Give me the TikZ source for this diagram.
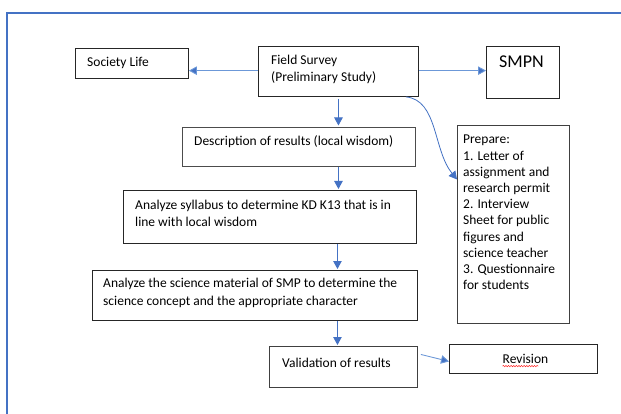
\documentclass[tikz,border=0pt]{standalone}
\usepackage{fontspec}
\setmainfont{Carlito}
\usetikzlibrary{arrows.meta,decorations.pathmorphing}
\definecolor{frameblue}{HTML}{4472C4}
\definecolor{arrblue}{HTML}{4472C4}
\definecolor{lightarr}{HTML}{6C98D8}
\tikzset{
  box/.style={draw=black!85, line width=0.9pt, anchor=north west, inner sep=0pt},
  txt/.style={anchor=west, inner sep=0pt, align=left, font=\fontsize{13.5}{17.5}\selectfont},
  arr/.style={draw=arrblue, line width=0.8pt, -{Triangle[length=8pt,width=8.5pt]}},
  larr/.style={draw=lightarr, line width=0.9pt, -{Triangle[length=8pt,width=8.5pt,fill=arrblue]}},
}
\begin{document}
\begin{tikzpicture}[x=1pt,y=-1pt]
\useasboundingbox (0,0) rectangle (621,414);
\fill[white] (0,0) rectangle (621,414);
% outer frame
\draw[frameblue, line width=1.3pt] (621,13) -- (7,13) -- (7,414);

% boxes
\node[box, minimum width=113, minimum height=30] (sl) at (75,48) {};
\node[box, minimum width=160, minimum height=50] (fs) at (258,46) {};
\node[box, minimum width=73, minimum height=52] (smpn) at (486,46) {};
\node[box, minimum width=233, minimum height=39, draw=black!70] (desc) at (182,127) {};
\node[box, minimum width=293, minimum height=53] (syl) at (123,190) {};
\node[box, minimum width=325, minimum height=50] (sci) at (92,270) {};
\node[box, minimum width=148, minimum height=41, draw=black!75] (val) at (269,346) {};
\node[box, minimum width=148, minimum height=29] (rev) at (449,344) {};
\node[box, minimum width=112, minimum height=198, draw=black!75] (prep) at (457,125) {};

% texts
\node[txt] (tsl) at (87,63) {Society Life};
\node[txt] (tfs) at (271,69.5) {Field Survey\\(Preliminary Study)};
\node[txt, font=\fontsize{18}{20}\selectfont] (tsmpn) at (499,62) {SMPN};
\node[txt] (tdesc) at (194,142) {Description of results (local wisdom)};
\node[txt] (tsyl) at (135,213.5) {Analyze syllabus to determine KD K13 that is in\\line with local wisdom};
\node[txt] (tsci) at (103,293) {Analyze the science material of SMP to determine the\\science concept and the appropriate character};
\node[txt] (tval) at (282,363) {Validation of results};
\node[txt, anchor=center] (trev) at (525.5,359) {Revision};
\node[txt, font=\fontsize{13.5}{16.2}\selectfont] (tprep) at (463,212.5) {Prepare:\\1. Letter of\\assignment and\\research permit\\2. Interview\\Sheet for public\\figures and\\science teacher\\3. Questionnaire\\for students};

% spell-check squiggle
\draw[red!85, line width=0.5pt, decorate, decoration={snake, amplitude=0.7pt, segment length=2.6pt}]
  ([yshift=-2.2pt]trev.south west) -- ([yshift=-2.2pt, xshift=-10pt]trev.south east);

% connectors
\draw[larr] ([yshift=0.8pt]fs.west) -- ([yshift=0.8pt]fs.west -| sl.east);
\draw[larr] ([yshift=0.8pt]fs.east) -- ([yshift=0.8pt]fs.east -| smpn.west);
\draw[arr] ([yshift=-2pt]fs.south) -- ([yshift=1.5pt]fs.south |- desc.north);
\draw[arr] (fs.south |- desc.south) -- ([yshift=1pt]fs.south |- syl.north);
\draw[arr] ([xshift=-1pt]fs.south |- syl.south) -- ([xshift=-1pt,yshift=1pt]fs.south |- sci.north);
\draw[arr] ([xshift=-1pt]fs.south |- sci.south) -- ([xshift=-1pt,yshift=1pt]fs.south |- val.north);
\draw[larr] ([xshift=3pt,yshift=12.5pt]val.east) -- ([yshift=-2.5pt]rev.west);
\draw[arr] ([xshift=-13pt]fs.south east) .. controls (438,100) and (433,150) .. ([yshift=45pt]prep.west);
\end{tikzpicture}
\end{document}
